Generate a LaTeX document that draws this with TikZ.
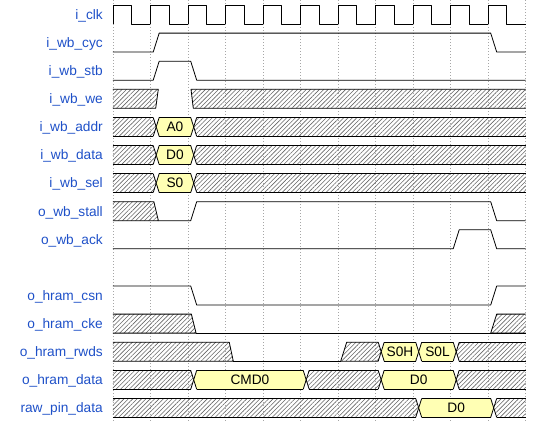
\documentclass[tikz,border=0pt]{standalone}
\usepackage{fontspec}
\setmainfont{Liberation Sans}
\usetikzlibrary{patterns.meta}

\definecolor{sigblue}{RGB}{30,80,200}
\definecolor{datafill}{RGB}{255,255,180}

% transition offsets and row size (in periods / rows)
\def\trA{0.072}
\def\trB{0.232}
\def\trM{0.152}
\def\rowh{0.676}
\def\rowm{0.338}

\tikzset{
  wave/.style={black, line width=0.8pt, line join=round},
  xfill/.style={wave, pattern={Lines[angle=45,distance=3.1pt,line width=0.6pt]}, pattern color=black!60},
  dfill/.style={fill=datafill},
  gridln/.style={black!35, line width=0.5pt, dash pattern=on 1pt off 2pt},
  lbl/.style={anchor=east, inner sep=0pt, text=sigblue, text height=9.7pt, text depth=0pt},
  dtext/.style={inner sep=0pt, text height=9.7pt, text depth=0pt}
}

% bus segment: row, from, to, fill style, text
\newcommand{\busseg}[5]{%
  \pgfmathsetmacro\segL{#2==0 ? 0 : #2+\trB}%
  \pgfmathsetmacro\segLm{#2==0 ? 0 : #2+\trM}%
  \pgfmathsetmacro\segR{#3==11 ? 11 : #3+\trA}%
  \pgfmathsetmacro\segRm{#3==11 ? 11 : #3+\trM}%
  \fill[#4] (\segL,#1) -- (\segR,#1) -- (\segRm,{#1+\rowm}) -- (\segR,{#1+\rowh})
    -- (\segL,{#1+\rowh}) -- (\segLm,{#1+\rowm}) -- cycle;
  \draw[wave] (\segL,#1) -- (\segR,#1) (\segL,{#1+\rowh}) -- (\segR,{#1+\rowh});
  \ifnum#2>0 \draw[wave] (\segL,#1) -- (\segLm,{#1+\rowm}) -- (\segL,{#1+\rowh});\fi
  \ifnum#3<11 \draw[wave] (\segR,#1) -- (\segRm,{#1+\rowm}) -- (\segR,{#1+\rowh});\fi
  \node[dtext] (d-#1-#2) at ({(\segLm+\segRm)/2},{#1+\rowm}) {#5};
}

\begin{document}
\begin{tikzpicture}[x=37.5pt, y=-28.1pt, font=\fontsize{13.7}{16}\selectfont]
  \useasboundingbox (-3.0133,-0.178) rectangle (11.4933,14.84);
  \foreach \i in {0,...,11}
    \draw[gridln] (\i,-0.178) -- (\i,14.84);

  % signal names
  \foreach \r/\t in {0/i\_clk, 1/i\_wb\_cyc, 2/i\_wb\_stb, 3/i\_wb\_we, 4/i\_wb\_addr,
      5/i\_wb\_data, 6/i\_wb\_sel, 7/o\_wb\_stall, 8/o\_wb\_ack, 10/o\_hram\_csn,
      11/o\_hram\_cke, 12/o\_hram\_rwds, 13/o\_hram\_data, 14/raw\_pin\_data}
    \node[lbl] (sig\r) at (-0.267,\r+0.338) {\t};

  % clock
  \foreach \i in {0,...,10}
    \draw[wave] (\i,\rowh) -- (\i,0) -- (\i+0.5,0) -- (\i+0.5,\rowh) -- (\i+1,\rowh);

  \draw[wave] (0,1.676) -- (1.072,1.676) -- (1.232,1) -- (10.072,1) -- (10.232,1.676) -- (11,1.676);
  \draw[wave] (0,2.676) -- (1.072,2.676) -- (1.232,2) -- (2.072,2) -- (2.232,2.676) -- (11,2.676);
  \draw[xfill] (0,3) -- (1.208,3) -- (1.139,3.676) -- (0,3.676);
  \draw[xfill] (11,3) -- (2.08,3) -- (2.141,3.676) -- (11,3.676);

  \busseg{4}{0}{1}{xfill}{}
  \busseg{4}{1}{2}{dfill}{A0}
  \busseg{4}{2}{11}{xfill}{}
  \busseg{5}{0}{1}{xfill}{}
  \busseg{5}{1}{2}{dfill}{D0}
  \busseg{5}{2}{11}{xfill}{}
  \busseg{6}{0}{1}{xfill}{}
  \busseg{6}{1}{2}{dfill}{S0}
  \busseg{6}{2}{11}{xfill}{}

  \draw[xfill] (0,7) -- (1.09,7) -- (1.21,7.676) -- (0,7.676);
  \draw[wave] (1.21,7.676) -- (2.072,7.676) -- (2.232,7) -- (10.072,7) -- (10.232,7.676) -- (11,7.676);
  \draw[wave] (0,8.676) -- (9.072,8.676) -- (9.232,8) -- (10.072,8) -- (10.232,8.676) -- (11,8.676);

  \draw[wave] (0,10) -- (2.072,10) -- (2.232,10.676) -- (10.072,10.676) -- (10.232,10) -- (11,10);
  \draw[xfill] (0,11) -- (2.09,11) -- (2.215,11.676) -- (0,11.676);
  \draw[wave] (2.215,11.676) -- (11,11.676);
  \draw[xfill] (11,11) -- (10.232,11) -- (10.072,11.676) -- (11,11.676);

  \draw[xfill] (0,12) -- (3.1,12) -- (3.208,12.676) -- (0,12.676);
  \draw[wave] (3.208,12.676) -- (6.072,12.676);
  \draw[xfill] (6.072,12.676) -- (6.232,12) -- (7.072,12) -- (7.152,12.338) -- (7.072,12.676) -- cycle;
  \busseg{12}{7}{8}{dfill}{S0H}
  \busseg{12}{8}{9}{dfill}{S0L}
  \busseg{12}{9}{11}{xfill}{}

  \busseg{13}{0}{2}{xfill}{}
  \busseg{13}{2}{5}{dfill}{CMD0}
  \busseg{13}{5}{7}{xfill}{}
  \busseg{13}{7}{9}{dfill}{D0}
  \busseg{13}{9}{11}{xfill}{}

  \busseg{14}{0}{8}{xfill}{}
  \busseg{14}{8}{10}{dfill}{D0}
  \busseg{14}{10}{11}{xfill}{}
\end{tikzpicture}
\end{document}
